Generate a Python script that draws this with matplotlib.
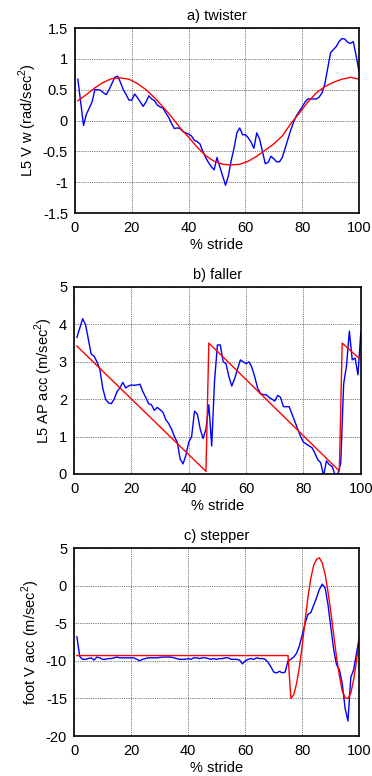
import matplotlib
matplotlib.use('Agg')
import matplotlib.pyplot as plt

plt.rcParams['font.family'] = ['Liberation Sans', 'DejaVu Sans']
plt.rcParams['mathtext.fontset'] = 'custom'
plt.rcParams['mathtext.rm'] = 'Liberation Sans'
plt.rcParams['font.size'] = 10.5

stride = list(range(1, 101))

# a) twister
twist_blue = [0.67, 0.3, -0.08, 0.1, 0.2, 0.3, 0.5, 0.5, 0.49, 0.45,
              0.42, 0.5, 0.6, 0.7, 0.72, 0.62, 0.5, 0.42, 0.33, 0.33,
              0.43, 0.37, 0.3, 0.23, 0.3, 0.4, 0.35, 0.32, 0.25, 0.22,
              0.2, 0.12, 0.05, -0.05, -0.13, -0.12, -0.13, -0.18, -0.2, -0.22,
              -0.25, -0.32, -0.34, -0.38, -0.5, -0.6, -0.68, -0.75, -0.8, -0.6,
              -0.75, -0.9, -1.05, -0.9, -0.65, -0.45, -0.2, -0.12, -0.23, -0.23,
              -0.28, -0.35, -0.45, -0.2, -0.3, -0.5, -0.7, -0.68, -0.58, -0.62,
              -0.67, -0.67, -0.6, -0.45, -0.3, -0.15, -0.02, 0.08, 0.15, 0.22,
              0.3, 0.35, 0.35, 0.35, 0.35, 0.38, 0.45, 0.6, 0.85, 1.1,
              1.15, 1.2, 1.28, 1.33, 1.32, 1.27, 1.25, 1.28, 1.05, 0.8]
twist_red_x = [1, 4, 7, 10, 13, 16, 19, 22, 25, 28, 31, 34, 37, 40, 43, 46, 49,
               52, 55, 58, 61, 64, 67, 70, 73, 76, 79, 82, 85, 88, 91, 94, 97, 100]
twist_red = [0.32, 0.42, 0.53, 0.62, 0.68, 0.69, 0.67, 0.6, 0.5, 0.37, 0.22,
             0.06, -0.12, -0.27, -0.43, -0.57, -0.66, -0.71, -0.72, -0.71,
             -0.66, -0.58, -0.48, -0.38, -0.25, -0.05, 0.12, 0.3, 0.45, 0.55,
             0.62, 0.67, 0.7, 0.67]

# b) faller
fall_blue = [3.65, 3.9, 4.15, 4.0, 3.6, 3.2, 3.15, 3.0, 2.8, 2.3,
             2.0, 1.9, 1.88, 2.0, 2.2, 2.3, 2.45, 2.3, 2.35, 2.38,
             2.37, 2.38, 2.4, 2.2, 2.05, 1.88, 1.85, 1.7, 1.78, 1.72,
             1.65, 1.45, 1.35, 1.2, 1.0, 0.85, 0.4, 0.27, 0.5, 0.85,
             1.0, 1.68, 1.6, 1.2, 0.95, 1.2, 1.85, 0.75, 2.5, 3.45,
             3.45, 3.0, 2.95, 2.6, 2.35, 2.55, 2.8, 3.05, 3.0, 2.95,
             3.0, 2.85, 2.6, 2.3, 2.15, 2.12, 2.12, 2.05, 2.0, 1.95,
             2.1, 2.05, 1.8, 1.8, 1.8, 1.6, 1.4, 1.2, 1.0, 0.85,
             0.8, 0.75, 0.7, 0.55, 0.38, 0.3, -0.05, 0.35, 0.25, 0.2,
             -0.02, 0.0, 0.3, 2.4, 2.9, 3.82, 3.05, 3.1, 2.65, 3.8]
fall_red_x = [1, 46, 47, 92.5, 93.5, 100]
fall_red = [3.42, 0.07, 3.5, 0.08, 3.5, 3.05]

# c) stepper
step_blue = [-6.8, -9.4, -9.8, -9.8, -9.7, -9.6, -9.9, -9.5, -9.6, -9.8,
             -9.8, -9.7, -9.7, -9.6, -9.5, -9.6, -9.6, -9.6, -9.6, -9.6,
             -9.6, -9.8, -10.0, -9.8, -9.7, -9.6, -9.6, -9.6, -9.6, -9.55,
             -9.5, -9.5, -9.5, -9.5, -9.6, -9.7, -9.8, -9.8, -9.8, -9.7,
             -9.8, -9.6, -9.6, -9.7, -9.6, -9.6, -9.7, -9.8, -9.7, -9.8,
             -9.7, -9.7, -9.6, -9.6, -9.8, -9.8, -9.8, -9.9, -10.4, -10.0,
             -9.8, -9.7, -9.8, -9.6, -9.7, -9.7, -9.8, -10.2, -10.8, -11.5,
             -11.6, -11.4, -11.6, -11.5, -10.0, -9.8, -9.5, -9.0, -8.0, -6.5,
             -5.0, -3.8, -3.6, -2.6, -1.6, -0.5, 0.2, -0.3, -2.5, -5.5,
             -8.5, -10.5, -11.2, -13.0, -16.3, -18.0, -12.2, -11.2, -9.0, -6.8]
step_red_x = [1, 75] + list(range(76, 101))
step_red = [-9.3, -9.3, -15.0, -14.5, -13.0, -10.8, -7.9, -4.6, -1.5, 1.0,
            2.7, 3.5, 3.7, 3.0, 1.5, -0.8, -3.5, -6.5, -9.5, -12.0,
            -14.0, -14.9, -15.0, -14.3, -12.5, -10.0, -7.0]

fig = plt.figure(figsize=(3.72, 7.76), dpi=100)

panels = [
    ([0.2016, 0.7255, 0.7634, 0.2384], 'a) twister', r'L5 V w (rad/sec$^{2}$)',
     twist_blue, twist_red_x, twist_red, (-1.5, 1.5), [-1.5, -1, -0.5, 0, 0.5, 1, 1.5]),
    ([0.199, 0.3892, 0.771, 0.241], 'b) faller', r'L5 AP acc (m/sec$^2$)',
     fall_blue, fall_red_x, fall_red, (0, 5), [0, 1, 2, 3, 4, 5]),
    ([0.199, 0.0515, 0.767, 0.2423], 'c) stepper', r'foot V acc (m/sec$^{2}$)',
     step_blue, step_red_x, step_red, (-20, 5), [-20, -15, -10, -5, 0, 5]),
]

for rect, title, ylabel, blue, rx, red, ylim, yticks in panels:
    ax = fig.add_axes(rect)
    ax.plot(stride, blue, color='blue', lw=1)
    ax.plot(rx, red, color='red', lw=1)
    ax.set_xlim(0, 100)
    ax.set_ylim(*ylim)
    ax.set_xticks([0, 20, 40, 60, 80, 100])
    ax.set_yticks(yticks)
    ax.set_yticklabels([('%g' % t) for t in yticks])
    ax.grid(True, color='0.3', linestyle=(0, (1, 1.2)), linewidth=0.6)
    ax.tick_params(axis='x', length=0, pad=6, labelsize=10.5)
    ax.tick_params(axis='y', length=0, pad=5, labelsize=10.5)
    for s in ax.spines.values():
        s.set_linewidth(1.2)
    ax.set_title(title, fontsize=10.5, pad=6)
    ax.set_xlabel('% stride', fontsize=10.5, labelpad=2)
    ax.set_ylabel(ylabel, fontsize=10.5, labelpad=3)

fig.savefig('out.png', dpi=100)
